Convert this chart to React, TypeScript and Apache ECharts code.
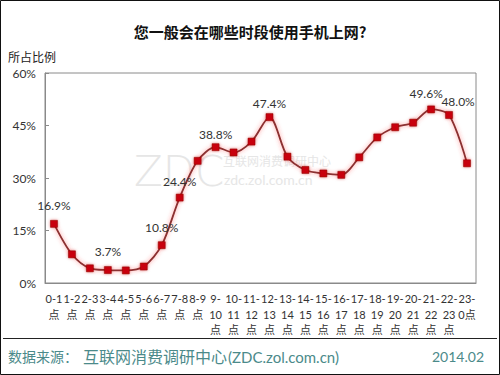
import React, { useEffect, useRef } from "react";
import * as echarts from "echarts";

const titleText = "您一般会在哪些时段使用手机上网?";
const yAxisName = "所占比例";
const categories = [
  "0-1\n点", "1-2\n点", "2-3\n点", "3-4\n点", "4-5\n点", "5-6\n点", "6-7\n点", "7-8\n点", "8-9\n点",
  "9-\n10\n点", "10-\n11\n点", "11-\n12\n点", "12-\n13\n点", "13-\n14\n点", "14-\n15\n点", "15-\n16\n点",
  "16-\n17\n点", "17-\n18\n点", "18-\n19\n点", "19-\n20\n点", "20-\n21\n点", "21-\n22\n点", "22-\n23\n点", "23-\n0点",
];
const values = [16.9, 8.2, 4.2, 3.7, 3.6, 4.7, 10.8, 24.4, 34.9, 38.8, 37.3, 40.4, 47.4, 36.1, 32.3, 31.3, 30.9, 35.9, 41.6, 44.5, 45.8, 49.6, 48.0, 34.2];
const labeledIndices = [0, 3, 6, 7, 9, 12, 21, 22];
const yTicks = [0, 15, 30, 45, 60];
const sourceParts = ["数据来源：", "互联网消费调研中心", "(ZDC.zol.com.cn)"];
const dateText = "2014.02";
const watermarkParts = ["ZDC", "互联网消费调研中心", "zdc.zol.com.cn"];

const labelPlacement: Record<number, { distance: number; dx: number }> = {
  0: { distance: 8.5, dx: 0 },
  3: { distance: 8.5, dx: 0 },
  6: { distance: 7.5, dx: 0 },
  7: { distance: 6.5, dx: 0 },
  9: { distance: 2.5, dx: 0 },
  12: { distance: 3.5, dx: 0 },
  21: { distance: 6.5, dx: -5 },
  22: { distance: 3.5, dx: 9 },
};

const FONT = "Lato, 'Noto Sans CJK SC', sans-serif";
const CJK = "'Noto Sans CJK SC', sans-serif";
const FOOT = "#4b8a8a";
const WM = "#e6e6e6";

export default function App() {
  const ref = useRef<HTMLDivElement>(null);
  useEffect(() => {
    document.body.style.margin = "0";
    const chart = echarts.init(ref.current!, null, { renderer: "svg" });
    const data = values.map((v, i) => {
      if (labeledIndices.includes(i)) {
        const p = labelPlacement[i];
        return {
          value: v,
          label: {
            show: true,
            position: "top",
            distance: p.distance,
            offset: [p.dx, 0],
            formatter: v.toFixed(1) + "%",
          },
        };
      }
      return { value: v };
    });
    chart.setOption({
      animation: false,
      backgroundColor: "#ffffff",
      title: {
        text: titleText,
        left: "center",
        top: 19,
        textStyle: { fontFamily: CJK, fontSize: 15, fontWeight: "bold", color: "#111" },
      },
      grid: {
        left: 45,
        right: 24,
        top: 73,
        bottom: 92,
        show: true,
        borderColor: "#8a8a8a",
        borderWidth: 1,
      },
      xAxis: {
        type: "category",
        data: categories,
        boundaryGap: true,
        axisLine: { lineStyle: { color: "#8a8a8a" } },
        axisTick: { inside: true, length: 4, lineStyle: { color: "#8a8a8a" } },
        axisLabel: {
          interval: 0,
          color: "#333",
          fontFamily: FONT,
          fontSize: 11,
          lineHeight: 15.5,
          margin: 8,
        },
      },
      yAxis: {
        type: "value",
        min: 0,
        max: 60,
        interval: 15,
        splitLine: { show: false },
        axisLine: { show: true, lineStyle: { color: "#8a8a8a" } },
        axisTick: { show: true, inside: true, length: 4, lineStyle: { color: "#8a8a8a" } },
        axisLabel: {
          color: "#333",
          fontFamily: FONT,
          fontSize: 12,
          margin: 9,
          formatter: (v: number) => (yTicks.includes(v) ? v + "%" : ""),
        },
      },
      graphic: [
        {
          type: "rect",
          shape: { x: 0.5, y: 0.5, width: 499, height: 374 },
          style: { fill: "none", stroke: "#111", lineWidth: 1 },
          silent: true,
          z: -1,
        },
        {
          type: "line",
          shape: { x1: 3, y1: 338.5, x2: 497, y2: 338.5 },
          style: { stroke: "#222", lineWidth: 1 },
        },
        {
          type: "text",
          x: 8,
          y: 50,
          style: { text: yAxisName, fontFamily: CJK, fontSize: 12, fill: "#222" },
        },
        {
          type: "text",
          x: 134,
          y: 150,
          z: -1,
          style: { text: watermarkParts[0], fontFamily: "'DejaVu Sans', sans-serif", fontWeight: 200, fontSize: 42, fill: WM },
        },
        {
          type: "text",
          x: 223,
          y: 154,
          z: -1,
          style: { text: watermarkParts[1], fontFamily: CJK, fontSize: 12, fill: WM },
        },
        {
          type: "text",
          x: 224,
          y: 172,
          z: -1,
          style: { text: watermarkParts[2], fontFamily: FONT, fontSize: 14, fill: WM },
        },
        {
          type: "text",
          x: 8,
          y: 349,
          style: { text: sourceParts[0], fontFamily: CJK, fontSize: 14, fill: FOOT },
        },
        {
          type: "text",
          x: 83,
          y: 348,
          style: { text: sourceParts[1], fontFamily: CJK, fontSize: 16, fill: FOOT },
        },
        {
          type: "text",
          x: 228,
          y: 349,
          style: { text: sourceParts[2], fontFamily: FONT, fontSize: 15, fill: FOOT },
        },
        {
          type: "text",
          right: 16,
          y: 349,
          style: { text: dateText, fontFamily: FONT, fontSize: 14, fill: FOOT },
        },
      ],
      series: [
        {
          type: "line",
          data,
          smooth: 0.3,
          symbol: "rect",
          symbolSize: 7,
          itemStyle: { color: "#c8000a", borderColor: "#8a0000", borderWidth: 0.5, shadowBlur: 3, shadowColor: "rgba(200,0,0,0.5)" },
          lineStyle: { color: "#8a3030", width: 1.8, shadowBlur: 4, shadowColor: "rgba(255,60,60,0.6)" },
          label: { color: "#333", fontFamily: FONT, fontSize: 12 },
          z: 3,
        },
      ],
    });
    return () => chart.dispose();
  }, []);
  return <div ref={ref} style={{ width: 500, height: 375 }} />;
}
